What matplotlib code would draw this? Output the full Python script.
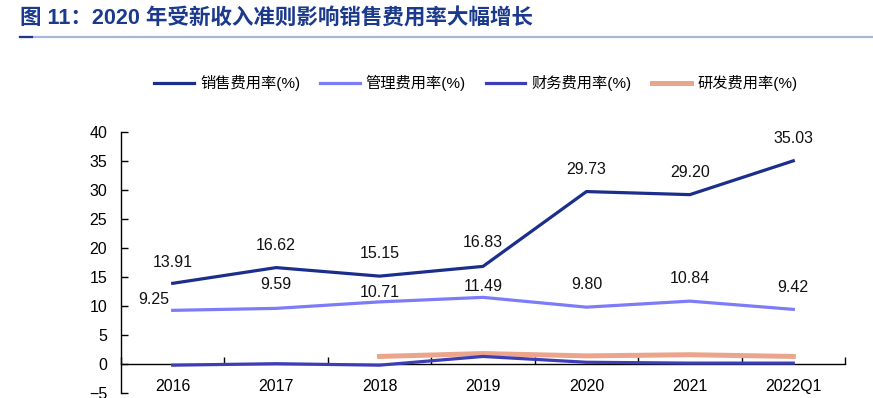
import matplotlib
matplotlib.use('Agg')
import matplotlib.pyplot as plt
from matplotlib.lines import Line2D

plt.rcParams['font.family'] = ['Liberation Sans', 'Noto Sans CJK SC']

# data
years = ['2016', '2017', '2018', '2019', '2020', '2021', '2022Q1']
sales_rate = [13.91, 16.62, 15.15, 16.83, 29.73, 29.20, 35.03]
admin_rate = [9.25, 9.59, 10.71, 11.49, 9.80, 10.84, 9.42]
finance_rate = [-0.2, 0.05, -0.2, 1.3, 0.3, 0.15, 0.15]
rd_years = ['2018', '2019', '2020', '2021', '2022Q1']
rd_rate = [1.3, 1.8, 1.4, 1.6, 1.3]

series_names = ['销售费用率(%)', '管理费用率(%)', '财务费用率(%)', '研发费用率(%)']
colors = ['#1C2E8C', '#7C7CF8', '#3D3DB5', '#EBA58C']

# label offsets in points (x, y), hand placed like the original
sales_offsets = [(0, 15), (0, 16), (0, 16), (0, 17), (0, 16), (0, 16), (0, 16)]
admin_offsets = [(-14, 8), (0, 17), (0, 7), (0, 8), (0, 16), (0, 16), (0, 16)]


def init_plot():
    fig = plt.figure(figsize=(8.73, 3.98), dpi=100)
    ax = fig.add_axes([121 / 873, 1 - 393 / 398, (845 - 121) / 873, (393 - 132) / 398])
    return fig, ax


def draw_header(fig):
    fig.text(20 / 873, 1 - 19 / 398, '图 11：2020 年受新收入准则影响销售费用率大幅增长',
             fontsize=15.5, fontweight='bold', color='#1B3A8C', va='center', ha='left')
    fig.add_artist(Line2D([20 / 873, 1.0], [1 - 37 / 398] * 2, color='#A9B7D6', lw=1.6,
                          transform=fig.transFigure))
    fig.add_artist(Line2D([20 / 873, 32 / 873], [1 - 37 / 398] * 2, color='#1B3A8C', lw=1.6,
                          transform=fig.transFigure))


def plot_lines(ax):
    x = list(range(len(years)))
    rd_x = [years.index(y) for y in rd_years]
    ax.plot(x, sales_rate, color=colors[0], lw=2.3, label=series_names[0], zorder=4)
    ax.plot(x, admin_rate, color=colors[1], lw=2.3, label=series_names[1], zorder=4)
    ax.plot(x, finance_rate, color=colors[2], lw=2.3, label=series_names[2], zorder=4)
    ax.plot(rd_x, rd_rate, color=colors[3], lw=3.6, label=series_names[3], zorder=3)

    for i, v in enumerate(sales_rate):
        ax.annotate(f'{v:.2f}', (i, v), xytext=sales_offsets[i], textcoords='offset points',
                    ha='center', va='center', fontsize=11.5, color='#111111')
    for i, v in enumerate(admin_rate):
        ax.annotate(f'{v:.2f}', (i, v), xytext=admin_offsets[i], textcoords='offset points',
                    ha='center', va='center', fontsize=11.5, color='#111111')


def style_axes(ax):
    ax.set_xlim(-0.5, len(years) - 0.5)
    ax.set_ylim(-5, 40)
    ax.set_yticks(range(-5, 41, 5))
    ax.spines['top'].set_visible(False)
    ax.spines['right'].set_visible(False)
    ax.spines['bottom'].set_position(('data', 0))
    ax.spines['bottom'].set_linewidth(1.0)
    ax.spines['left'].set_linewidth(1.0)

    ax.set_xticks([i - 0.5 for i in range(len(years) + 1)])
    ax.set_xticklabels([])
    ax.set_xticks(range(len(years)), minor=True)
    ax.set_xticklabels(years, minor=True)
    ax.tick_params(axis='x', which='major', direction='in', length=5, width=1)
    ax.tick_params(axis='x', which='minor', length=0, pad=11, labelsize=11.5)
    ax.tick_params(axis='y', direction='in', length=5, width=1, pad=10, labelsize=11.5)

    leg = ax.legend(loc='center', bbox_to_anchor=(0.545, 1 - 83 / 398), bbox_transform=plt.gcf().transFigure,
                    ncol=4, frameon=False, fontsize=11, handlelength=2.6, columnspacing=1.3,
                    handletextpad=0.4)
    return leg


def main():
    fig, ax = init_plot()
    draw_header(fig)
    plot_lines(ax)
    style_axes(ax)
    fig.savefig('out.png', dpi=100)


if __name__ == '__main__':
    main()
